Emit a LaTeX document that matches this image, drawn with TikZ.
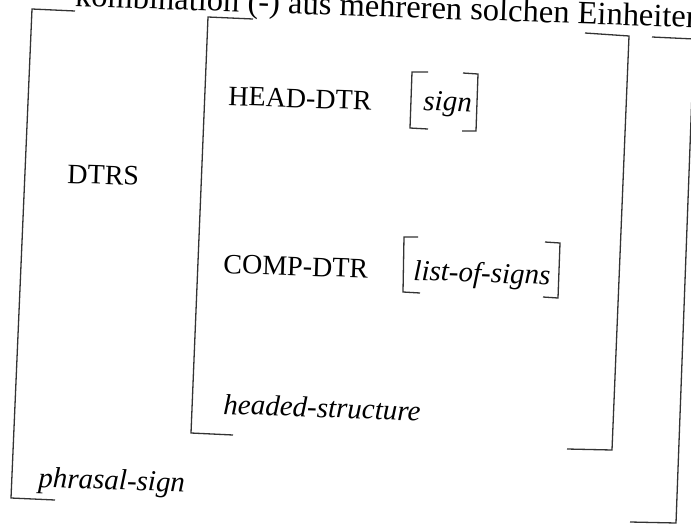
\documentclass[tikz,border=0pt]{standalone}
\usepackage{fontspec}
\setmainfont{Liberation Serif}
\usetikzlibrary{positioning}
\tikzset{
	avm/.style={line width=1.3pt, black!80, line join=miter},
	feat/.style={font=\fontsize{28}{30}\selectfont, inner sep=0pt, anchor=base west, rotate=-2},
	avmtype/.style={feat, font=\fontsize{29}{31}\selectfont\itshape},
}
\begin{document}
\begin{tikzpicture}[x=1pt, y=-1pt]
	\clip (0,0) rectangle (691,525);
	\fill[white] (0,0) rectangle (691,525);
	\node[font=\fontsize{32.5}{34}\selectfont, inner sep=0pt, anchor=base east, rotate=-2] (caption) at (702, 28) {kombination (-) aus mehreren solchen Einheiten};
		\node[feat] (dtrs)		at	(67, 183)	{DTRS};
		\node[feat] (headdtr)	at	(228, 105)	{HEAD-DTR};
		\node[avmtype] (sign)	at	(423, 110)	{sign};
		\node[feat] (compdtr)	at	(223, 273)	{COMP-DTR};
		\node[avmtype] (signs)	at	(413, 280)	{list-of-signs};
		\node[avmtype] (headed)	at	(223, 414)	{headed-structure};
		\node[avmtype] (phrasal)	at	(38, 487)	{phrasal-sign};
		% phrasal-sign
		\draw[avm] (75,11) -- (32,9) -- (11,498) -- (55,500);
		\draw[avm] (652,37) -- (694,39) -- (676,523) -- (630,522);
		% headed-structure
		\draw[avm] (253,19) -- (208,17) -- (191,433) -- (233,435);
		\draw[avm] (585,33) -- (629,36) -- (612,450) -- (567,449);
		% sign
		\draw[avm] (428,72) -- (412,72) -- (410,128) -- (428,129);
		\draw[avm] (463,73) -- (478,74) -- (476,131) -- (462,131);
		% list-of-signs
		\draw[avm] (418,237) -- (404,237) -- (403,292) -- (420,293);
		\draw[avm] (545,242) -- (560,243) -- (558,298) -- (543,297);
	\end{tikzpicture}
\end{document}
